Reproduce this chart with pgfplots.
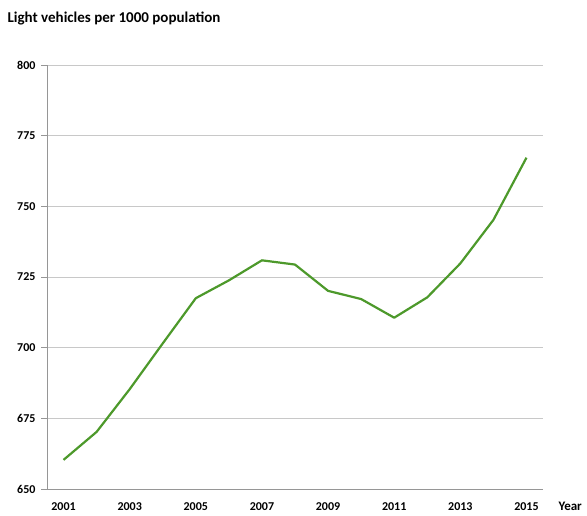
\documentclass[border=0pt]{standalone}
\usepackage{fontspec}
\setmainfont{Carlito}
\usepackage{pgfplots}
\pgfplotsset{compat=1.18}
\definecolor{linegreen}{RGB}{77,153,43}
\definecolor{gridgray}{RGB}{200,200,200}
\definecolor{axgray}{RGB}{150,150,150}
\begin{document}
\begin{tikzpicture}
\path[use as bounding box] (0pt,0pt) rectangle (587pt,515pt);
\begin{axis}[
  at={(47pt,26pt)}, anchor=south west,
  width=496pt, height=424pt, scale only axis,
  xmin=2000.5, xmax=2015.5, ymin=650, ymax=800,
  xtick={2001,2003,...,2015},
  ytick={650,675,...,800},
  axis x line*=bottom, axis y line*=left,
  axis line style={draw=axgray, line width=0.8pt, -},
  ymajorgrids, grid style={draw=gridgray, line width=0.9pt},
  xtick style={draw=none},
  ytick style={draw=axgray, line width=0.8pt},
  tick align=outside, major tick length=6pt,
  /pgf/number format/assume math mode=true,
  /pgf/number format/1000 sep={},
  tick label style={font=\bfseries\fontsize{12}{14}\selectfont, text=black},
  xticklabel style={yshift=-4pt},
  yticklabel style={xshift=-2pt},
  clip=false,
]
\addplot[color=linegreen, line width=2.2pt, line join=round] coordinates {
(2001,660.3) (2002,670.2) (2003,685.3) (2004,701.5) (2005,717.5)
(2006,723.8) (2007,730.9) (2008,729.4) (2009,720.1) (2010,717.2)
(2011,710.6) (2012,717.8) (2013,729.8) (2014,745.2) (2015,767.2)
};
\end{axis}
\node[anchor=west, font=\bfseries\fontsize{15}{17}\selectfont] at (4pt,497pt) {Light vehicles per 1000 population};
\node[anchor=west, font=\bfseries\fontsize{13}{15}\selectfont] at (555pt,9pt) {Year};
\end{tikzpicture}
\end{document}
